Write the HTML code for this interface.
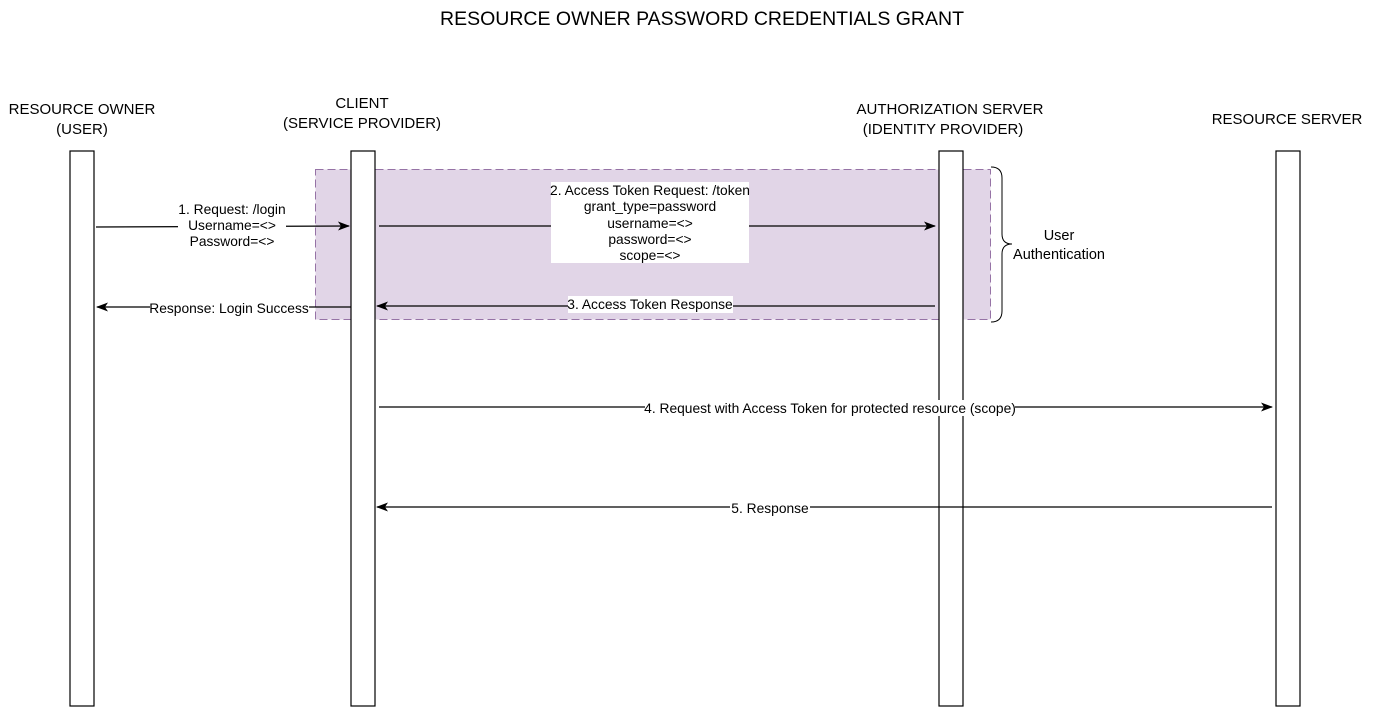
<!DOCTYPE html>
<html><head><meta charset="utf-8"><style>
html,body{margin:0;padding:0;background:#fff;}
svg{display:block;font-family:"Liberation Sans",Arial,sans-serif;}
</style></head><body>
<svg width="1388" height="708" viewBox="0 0 1388 708" xmlns="http://www.w3.org/2000/svg">
<defs><marker id="a" markerWidth="12" markerHeight="12" refX="11" refY="6" orient="auto" markerUnits="userSpaceOnUse"><path d="M0,1.5 L12,6 L0,10.5 L3,6 Z" fill="#000"/></marker></defs>
<text x="702" y="25" font-size="19.5" text-anchor="middle">RESOURCE OWNER PASSWORD CREDENTIALS GRANT</text>
<g font-size="15" text-anchor="middle">
<text x="82" y="114">RESOURCE OWNER</text><text x="82" y="134">(USER)</text>
<text x="362" y="108">CLIENT</text><text x="362" y="128">(SERVICE PROVIDER)</text>
<text x="950" y="114">AUTHORIZATION SERVER</text><text x="943" y="134">(IDENTITY PROVIDER)</text>
<text x="1287" y="124">RESOURCE SERVER</text>
</g>
<rect x="315.5" y="169.5" width="675" height="150" fill="#e1d5e7" stroke="#9673a6" stroke-dasharray="8 4"/>
<g fill="#fff" stroke="#000" stroke-width="1.2">
<rect x="70" y="151" width="24" height="555"/>
<rect x="351" y="151" width="24" height="555"/>
<rect x="939" y="151" width="24" height="555"/>
<rect x="1276" y="151" width="24" height="555"/>
</g>
<path d="M991,167 Q1002,167 1002,178 L1002,234 Q1002,244 1012,244 Q1002,244 1002,254 L1002,311 Q1002,322 991,322" fill="none" stroke="#000"/>
<text x="1059" y="240" font-size="14.5" text-anchor="middle">User</text>
<text x="1059" y="259" font-size="14.5" text-anchor="middle">Authentication</text>
<g stroke="#000" stroke-width="1.2" fill="none">
<line x1="96" y1="227" x2="349" y2="226" marker-end="url(#a)"/>
<line x1="379" y1="226" x2="935" y2="226" marker-end="url(#a)"/>
<line x1="935" y1="306" x2="377" y2="306" marker-end="url(#a)"/>
<line x1="351" y1="307" x2="97" y2="307" marker-end="url(#a)"/>
<line x1="379" y1="407" x2="1272" y2="407" marker-end="url(#a)"/>
<line x1="1272" y1="507" x2="377" y2="507" marker-end="url(#a)"/>
</g>
<g font-size="13.8" text-anchor="middle">
<rect x="178" y="201" width="108" height="47" fill="#fff"/>
<text x="232" y="214">1. Request: /login</text>
<text x="232" y="230">Username=&lt;&gt;</text>
<text x="232" y="246">Password=&lt;&gt;</text>
<rect x="551" y="182" width="198" height="81" fill="#fff"/>
<text x="650" y="195">2. Access Token Request: /token</text>
<text x="650" y="211">grant_type=password</text>
<text x="650" y="228">username=&lt;&gt;</text>
<text x="650" y="244">password=&lt;&gt;</text>
<text x="650" y="260">scope=&lt;&gt;</text>
<rect x="568" y="296" width="165" height="17" fill="#fff"/>
<text x="650" y="309">3. Access Token Response</text>
<rect x="150" y="300" width="159" height="16" fill="#fff"/>
<text x="229" y="313">Response: Login Success</text>
<rect x="645" y="400" width="370" height="16" fill="#fff"/>
<text x="830" y="413">4. Request with Access Token for protected resource (scope)</text>
<rect x="730" y="500" width="80" height="16" fill="#fff"/>
<text x="770" y="513">5. Response</text>
</g>
</svg>
</body></html>
